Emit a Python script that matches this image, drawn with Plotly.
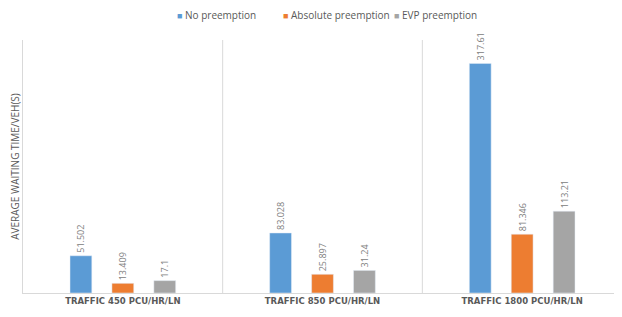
import plotly.graph_objects as go

categories = ["TRAFFIC 450 PCU/HR/LN", "TRAFFIC 850 PCU/HR/LN", "TRAFFIC 1800 PCU/HR/LN"]
no_preemption = [51.502, 83.028, 317.61]
absolute_preemption = [13.409, 25.897, 81.346]
evp_preemption = [17.1, 31.24, 113.21]

series = [
    ("No preemption", no_preemption, "#5B9BD5"),
    ("Absolute preemption", absolute_preemption, "#ED7D31"),
    ("EVP preemption", evp_preemption, "#A5A5A5"),
]

fig = go.Figure()
for name, vals, color in series:
    fig.add_trace(go.Bar(
        x=categories, y=vals, name=name, marker_color=color,
        text=[str(v) for v in vals], textposition="outside", textangle=-90,
        constraintext="none",
        textfont=dict(size=9, color="#808080", family="Open Sans"), cliponaxis=False,
    ))

for xv in [0.5, 1.5]:
    fig.add_shape(type="line", xref="x", yref="paper", x0=xv, x1=xv, y0=0, y1=1,
                  line=dict(color="#d9d9d9", width=1))

# legend drawn as annotations (small square markers like the original)
legend_x = [0.254, 0.43, 0.616]
for (name, vals, color), lx in zip(series, legend_x):
    fig.add_annotation(
        xref="paper", yref="paper", x=lx, y=1.1, xanchor="left", yanchor="middle",
        text=f"<span style='color:{color};font-size:9px'>■</span> {name}",
        showarrow=False, font=dict(size=10, color="#595959", family="Open Sans"),
    )

# page body has an 8px default margin; size the figure to fit the window
fig.update_layout(
    width=614, height=309,
    margin=dict(l=15, r=0, t=32, b=24, autoexpand=False),
    paper_bgcolor="white", plot_bgcolor="white",
    font=dict(family="Open Sans", color="#595959"),
    barmode="group", bargap=0.37, bargroupgap=0.48,
    showlegend=False,
    xaxis=dict(showgrid=False, showline=True, linecolor="#d9d9d9", linewidth=1,
               ticks="", automargin=False,
               tickfont=dict(size=8.5, color="#595959", family="DejaVu Sans"),
               tickprefix="<b>", ticksuffix="</b>", range=[-0.5, 2.5]),
    yaxis=dict(range=[0, 350], showgrid=False, showticklabels=False, zeroline=False,
               showline=True, linecolor="#d9d9d9", linewidth=1, ticks="", automargin=False,
               title=dict(text="AVERAGE WAITING TIME/VEH(S)", font=dict(size=10, color="#595959"),
                          standoff=7)),
)

fig.write_html("out.html")
